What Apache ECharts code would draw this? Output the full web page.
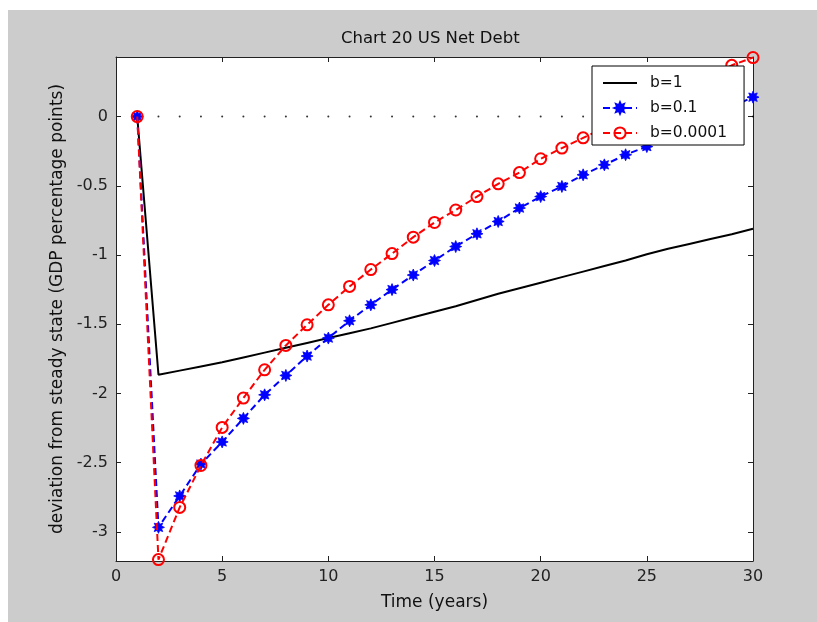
<!DOCTYPE html>
<html>
<head>
<meta charset="utf-8">
<script src="https://cdn.jsdelivr.net/npm/echarts@6/dist/echarts.min.js"></script>
<style>
html,body{margin:0;padding:0;background:#fff;}
#frame{position:absolute;left:8px;top:10px;width:809px;height:612px;background:#cccccc;}
#chart{position:absolute;left:0;top:0;width:817px;height:622px;}
</style>
</head>
<body>
<div id="frame"></div>
<div id="chart"></div>
<script>
const titleText = "Chart 20 US Net Debt";
const xName = "Time (years)";
const yName = "deviation from steady state (GDP percentage points)";
const years = [1,2,3,4,5,6,7,8,9,10,11,12,13,14,15,16,17,18,19,20,21,22,23,24,25,26,27,28,29,30];
const seriesNames = ["b=1", "b=0.1", "b=0.0001"];
const b1 = [0,-1.865,-1.835,-1.805,-1.775,-1.74,-1.705,-1.67,-1.635,-1.600,-1.565,-1.53,-1.49,-1.45,-1.41,-1.37,-1.325,-1.28,-1.24,-1.20,-1.16,-1.12,-1.08,-1.04,-0.995,-0.955,-0.92,-0.885,-0.85,-0.81];
const b01 = [0,-2.967,-2.74,-2.51,-2.35,-2.18,-2.01,-1.87,-1.73,-1.60,-1.475,-1.36,-1.25,-1.145,-1.04,-0.939,-0.847,-0.758,-0.661,-0.578,-0.505,-0.421,-0.349,-0.276,-0.217,-0.145,-0.075,-0.005,0.07,0.14];
const b00001 = [0,-3.2,-2.823,-2.52,-2.245,-2.033,-1.829,-1.653,-1.504,-1.36,-1.227,-1.105,-0.99,-0.871,-0.765,-0.675,-0.578,-0.486,-0.405,-0.305,-0.228,-0.154,-0.08,-0.005,0.07,0.145,0.22,0.295,0.37,0.426];
const zeroLine = [0,0,0,0,0,0,0,0,0,0,0,0,0,0,0,0,0,0,0,0,0,0,0,0,0,0,0,0,0,0];
const yTicks = [-3,-2.5,-2,-1.5,-1,-0.5,0];
const xRange = [0, 30];
const yRange = [-3.21, 0.43];

function pairs(vals){ return years.map((x,i)=>[x, vals[i]]); }

// asterisk-like star symbol
function starPath(n, R, r){
  let d = '';
  for (let i = 0; i < 2*n; i++){
    const a = Math.PI * i / n - Math.PI/2;
    const rad = (i % 2 === 0) ? R : r;
    const px = (rad*Math.cos(a)).toFixed(3), py = (rad*Math.sin(a)).toFixed(3);
    d += (i === 0 ? 'M' : 'L') + px + ',' + py + ' ';
  }
  return 'path://' + d + 'Z';
}

const FONT = "DejaVu Sans";
const chart = echarts.init(document.getElementById('chart'), null, {renderer:'canvas'});
const axisLineStyle = {color:'#222', width:1};
const tickStyle = {show:true, inside:true, length:5, lineStyle:{color:'#222', width:1}};

chart.setOption({
  backgroundColor: 'transparent',
  animation: false,
  title: {
    text: titleText, left: 336, top: 25,
    textStyle: {fontFamily: FONT, fontSize: 16.5, fontWeight: 'normal', color: '#111'}
  },
  legend: {
    data: seriesNames,
    orient: 'vertical',
    left: 592, top: 66, z: 20,
    padding: [9, 17, 4, 10],
    itemWidth: 34, itemHeight: 14, itemGap: 9,
    backgroundColor: '#fff',
    borderColor: '#000', borderWidth: 1, borderRadius: 0,
    textStyle: {fontFamily: FONT, fontSize: 15.5, color: '#111', padding: [0,0,0,8]}
  },
  grid: {left: 116, top: 57, width: 637, height: 504, show: true, backgroundColor:'#fff', borderWidth:0},
  xAxis: [{
    type: 'value', min: xRange[0], max: xRange[1], interval: 5,
    name: xName, nameLocation: 'middle', nameGap: 33,
    nameTextStyle: {fontFamily: FONT, fontSize: 17, color: '#111'},
    axisLine: {show:true, onZero:false, lineStyle: axisLineStyle},
    axisTick: tickStyle,
    axisLabel: {fontFamily: FONT, fontSize: 16, color: '#222', margin: 8},
    splitLine: {show:false}
  },{
    type: 'value', position: 'top', min: xRange[0], max: xRange[1], interval: 5,
    axisLine: {show:true, onZero:false, lineStyle: axisLineStyle},
    axisTick: tickStyle, axisLabel: {show:false}, splitLine: {show:false}
  }],
  yAxis: [{
    type: 'value', min: yRange[0], max: yRange[1],
    name: yName, nameLocation: 'middle', nameGap: 45, nameRotate: 90,
    nameTextStyle: {fontFamily: FONT, fontSize: 17, color: '#111'},
    axisLine: {show:true, onZero:false, lineStyle: axisLineStyle},
    axisTick: Object.assign({}, tickStyle, {customValues: yTicks}),
    axisLabel: {fontFamily: FONT, fontSize: 16, color: '#222', margin: 8, customValues: yTicks},
    splitLine: {show:false}
  },{
    type: 'value', position: 'right', min: yRange[0], max: yRange[1],
    axisLine: {show:true, onZero:false, lineStyle: axisLineStyle},
    axisTick: Object.assign({}, tickStyle, {customValues: yTicks}),
    axisLabel: {show:false}, splitLine: {show:false}
  }],
  series: [
    {
      name: 'zero', type: 'scatter', data: pairs(zeroLine),
      symbol: 'circle', symbolSize: 2, itemStyle: {color:'#000'}, z: 1, silent: true
    },
    {
      name: seriesNames[0], type: 'line', data: pairs(b1),
      symbol: 'line', showSymbol: false, symbolSize: 11,
      lineStyle: {color:'#000', width: 2}, itemStyle: {color:'#000', borderColor:'#000', borderWidth: 2}, z: 2
    },
    {
      name: seriesNames[1], type: 'line', data: pairs(b01),
      symbol: starPath(8, 1, 0.55), symbolSize: 12,
      lineStyle: {color:'#0000ff', width: 2, type: [7,4]},
      itemStyle: {color:'#0000ff', borderColor:'#0000ff', borderWidth: 0.8}, z: 3
    },
    {
      name: seriesNames[2], type: 'line', data: pairs(b00001),
      symbol: 'circle', symbolSize: 11,
      lineStyle: {color:'#ff0000', width: 2, type: [7,4]},
      itemStyle: {color:'rgba(255,255,255,0)', borderColor:'#ff0000', borderWidth: 2}, z: 4
    }
  ]
});
</script>
</body>
</html>
